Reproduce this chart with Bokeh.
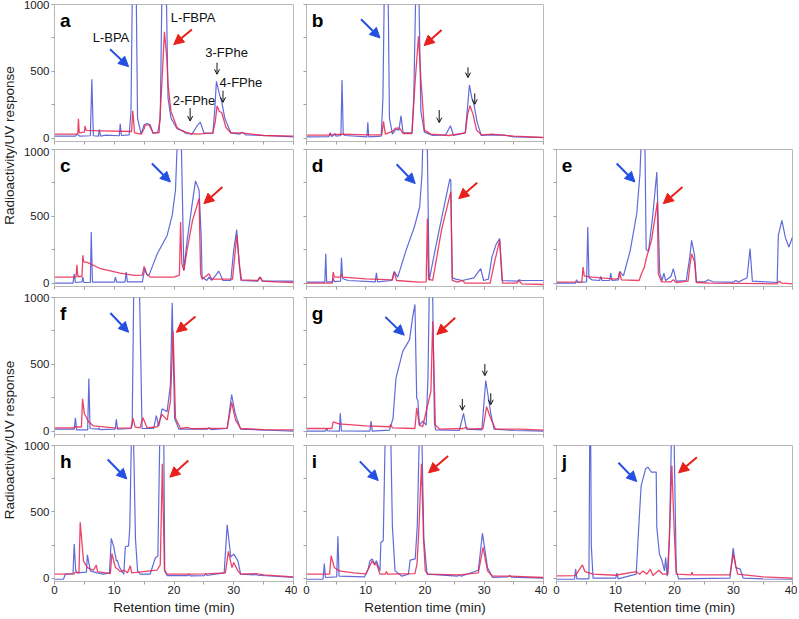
import math
from bokeh.plotting import figure
from bokeh.layouts import row, column, Spacer
from bokeh.models import Arrow, NormalHead, OpenHead, FixedTicker
from bokeh.core.properties import value
from bokeh.embed import file_html
from bokeh.resources import INLINE

# ---------------- data: (retention time [min], response) ----------------
a_uv = [(0,15),(3.5,15),(3.8,30),(4.2,15),(6.0,18),(6.25,440),(6.5,18),(7.35,15),(7.5,65),(7.7,15),(8.5,22),
        (10.85,18),(11.0,107),(11.2,20),(12.5,25),(12.8,200),(13.0,1000),(13.35,1600),(13.7,1000),(13.9,150),
        (14.5,30),(15.0,100),(15.5,110),(16.0,100),(16.5,35),(17.3,45),(17.7,145),(17.95,1000),(18.4,1600),
        (18.75,1000),(19.0,300),(19.5,150),(20.5,70),(21.5,55),(22.0,35),(23.0,30),(24.0,100),(24.4,120),
        (25.0,40),(26.5,35),(26.8,200),(27.1,425),(27.6,330),(28.0,270),(28.5,150),(29.5,40),(31.0,30),
        (31.4,45),(32.0,25),(35.0,20),(40.0,10)]
a_rad = [(0,30),(3.9,30),(4.0,145),(4.15,40),(5.0,45),(5.1,90),(5.3,58),(8,55),(12.9,50),(13.1,205),(13.4,40),
         (14.5,30),(15.0,70),(15.2,100),(15.8,100),(16.5,40),(17.5,40),(17.9,350),(18.4,795),(18.8,600),
         (19.0,400),(19.5,200),(20.5,80),(21.5,50),(22.7,35),(24,30),(26.5,40),(26.9,120),(27.2,240),
         (27.6,200),(28.0,190),(28.7,80),(29.5,40),(31.4,40),(35,20),(40,15)]

b_uv = [(0,10),(3.8,12),(4.0,30),(4.3,12),(4.8,35),(5.0,15),(5.8,20),(6.0,435),(6.2,30),(6.5,20),(10.2,10),
        (10.35,118),(10.5,10),(12.6,15),(12.9,300),(13.1,1000),(13.4,1600),(13.8,1000),(14.0,150),(14.5,30),
        (15.1,68),(15.6,60),(15.95,168),(16.3,40),(17.8,40),(18.1,300),(18.4,1000),(18.7,1600),(19.0,1000),
        (19.3,200),(19.9,45),(21.3,20),(23.5,25),(24.3,93),(24.8,20),(26.8,40),(27.5,398),(27.9,300),
        (28.25,255),(28.8,120),(29.5,20),(31.3,25),(33.5,22),(35,10),(40,5)]
b_rad = [(0,22),(3.8,22),(4.0,40),(4.2,25),(6.0,30),(10.3,25),(12.7,25),(13.0,125),(13.3,30),(14.5,50),
         (15.0,75),(15.7,75),(16.3,35),(17.8,35),(18.3,400),(18.9,762),(19.3,450),(19.9,60),(21,30),(24,20),
         (26.8,40),(27.2,180),(27.6,243),(28.1,180),(28.7,60),(29.5,25),(31.3,30),(35,15),(40,5)]

c_uv = [(0,0),(3.1,0),(3.3,70),(3.5,5),(4.6,10),(4.75,45),(4.9,5),(6.0,5),(6.15,383),(6.35,8),(10.0,8),
        (10.2,45),(10.4,8),(11.8,8),(12.0,83),(12.2,10),(14.7,10),(15.1,108),(15.5,60),(15.8,58),(17.2,220),
        (18.85,357),(19.7,507),(20.25,695),(20.5,1000),(20.9,1600),(21.25,1000),(21.65,95),(22.2,320),
        (23.05,595),(23.6,765),(24.2,695),(24.55,350),(24.7,45),(25.5,20),(25.85,45),(26.3,20),(27.0,60),
        (27.5,90),(28.2,20),(29.5,20),(30.0,250),(30.5,400),(30.9,150),(31.2,20),(34.0,15),(34.4,45),
        (34.8,15),(40,15)]
c_rad = [(0,45),(3.6,45),(3.75,138),(3.9,50),(4.6,50),(4.75,208),(4.9,160),(5.5,155),(7.7,108),(11,75),
         (13.3,58),(14.7,60),(15.0,125),(15.4,70),(16.0,45),(20.0,45),(20.9,60),(21.1,458),(21.3,150),
         (21.65,95),(22.2,250),(23.1,470),(24.2,633),(24.45,70),(24.7,30),(25.85,70),(26.3,30),(29.8,30),
         (30.5,358),(31.0,120),(31.3,25),(34.0,20),(34.4,45),(34.8,15),(37,10),(40,5)]

d_uv = [(0,8),(3.1,8),(3.25,220),(3.4,10),(4.4,10),(4.5,40),(4.7,12),(5.75,15),(5.9,190),(6.1,35),(7,20),
        (11.6,10),(11.8,78),(12.0,10),(14.4,20),(14.8,88),(15.4,45),(16.8,245),(18.2,420),(19.1,570),
        (19.5,820),(19.7,1200),(20.1,1600),(20.4,1000),(20.7,20),(21.8,270),(23.2,570),(24.2,780),
        (24.35,770),(24.6,40),(25.2,30),(26.3,20),(28.25,40),(29.4,108),(29.9,20),(30.7,30),(31.3,195),
        (32.0,290),(32.6,333),(33.0,20),(35.5,15),(35.9,25),(36.3,20),(40,20)]
d_rad = [(0,0),(4.35,0),(4.5,83),(4.7,45),(5.75,45),(5.9,70),(6.1,45),(10,32),(14.5,25),(14.8,83),(15.2,20),
         (19.0,8),(20.2,10),(20.4,483),(20.6,30),(21.3,20),(22.8,400),(24.35,683),(24.6,20),(25.5,8),
         (26.3,20),(26.8,0),(31.0,0),(31.8,170),(32.6,320),(33.1,0),(35.5,0),(35.9,20),(36.3,-5),(40,-10)]

e_uv = [(0,0),(3.2,0),(3.4,25),(3.6,5),(5.1,10),(5.3,420),(5.5,40),(6,25),(7.3,20),(7.5,50),(7.7,20),
        (9.0,20),(9.2,75),(9.4,20),(10.5,25),(10.7,88),(11.35,55),(12.5,245),(13.6,520),(14.15,820),
        (14.3,1000),(14.6,1600),(15.0,1000),(15.2,250),(15.6,240),(16.3,500),(17.0,832),(17.5,75),(17.9,20),
        (18.2,75),(18.5,20),(19.4,50),(19.8,108),(20.3,15),(22.0,20),(22.6,200),(22.9,320),(23.4,208),
        (23.7,10),(25.2,10),(25.7,25),(26.5,10),(30.0,8),(30.4,20),(30.8,8),(32.3,40),(32.8,258),(33.2,15),
        (37.4,5),(37.6,358),(38.2,470),(38.8,340),(39.4,270),(40,345)]
e_rad = [(0,8),(4.3,10),(4.5,120),(4.7,55),(6,45),(10,30),(10.5,35),(10.7,83),(11.0,25),(14.0,20),(14.4,70),
         (14.9,120),(15.2,183),(16.1,320),(17.1,608),(17.25,70),(17.8,10),(19.4,10),(19.8,25),(20.3,5),
         (22.3,15),(22.6,130),(22.9,220),(23.4,158),(23.7,5),(26,0),(37.4,-5),(37.75,15),(38.2,0),(40,-5)]

f_uv = [(0,15),(3.3,15),(3.5,100),(3.7,10),(5.55,10),(5.75,394),(5.95,20),(7.3,15),(7.4,25),(7.6,12),
        (10.15,15),(10.35,88),(10.55,15),(12.8,20),(13.0,45),(13.25,1000),(13.7,1600),(14.25,1000),
        (14.65,20),(16.6,20),(17.05,116),(17.45,35),(18.0,167),(18.85,146),(19.4,348),(19.7,960),(20.1,96),
        (20.8,15),(25.5,15),(25.85,25),(26.2,12),(28.9,20),(29.65,273),(30.2,140),(30.6,83),(31.15,15),
        (34,10),(37,5),(40,0)]
f_rad = [(0,25),(3.3,25),(3.5,33),(4.5,30),(4.7,242),(5.0,130),(5.7,70),(6.5,40),(10,25),(12.8,22),
         (13.15,96),(13.5,30),(14.3,25),(14.8,100),(15.5,25),(17.2,33),(18.0,126),(18.85,83),(19.4,222),
         (19.85,748),(20.25,96),(21.1,20),(22.2,28),(23,18),(28.9,22),(29.65,215),(30.3,83),(31.15,20),
         (35,12),(40,10)]

g_uv = [(0,0),(3.2,0),(3.4,20),(3.6,2),(5.55,0),(5.7,133),(5.9,2),(10.7,0),(10.9,75),(11.1,0),(14.0,8),
        (14.6,95),(15.1,397),(16.25,597),(17.4,685),(17.9,848),(18.3,948),(18.6,246),(18.8,230),(19.05,45),
        (19.6,75),(20.2,45),(20.5,400),(20.7,1000),(21.0,1600),(21.3,1000),(21.6,60),(21.8,10),(25.8,5),
        (26.5,133),(27.0,15),(29.6,10),(30.25,379),(30.7,250),(31.1,133),(31.65,15),(35,5),(40,0)]
g_rad = [(0,20),(4.3,20),(4.5,70),(5.5,55),(10,40),(14.0,33),(14.2,50),(14.5,25),(18.3,20),(18.6,175),
         (19.05,45),(19.6,33),(21.0,300),(21.3,823),(21.75,45),(22.5,15),(26.5,20),(27.0,30),(27.3,15),
         (29.8,20),(30.4,183),(31.1,95),(31.9,15),(36,15),(40,8)]

h_uv = [(0,-8),(1.5,-8),(1.8,30),(3.1,35),(3.3,257),(3.55,60),(3.85,40),(5.35,45),(5.5,176),(6.0,55),
        (7.1,40),(8.2,30),(9.2,40),(9.5,300),(9.9,240),(10.35,130),(10.5,135),(10.9,80),(11.6,30),
        (11.85,237),(12.4,244),(12.6,383),(12.85,1000),(13.05,1600),(13.25,1000),(13.55,300),(13.9,55),
        (14.35,30),(16.0,30),(16.9,156),(17.3,165),(17.6,1000),(17.95,1600),(18.3,1000),(18.45,55),
        (18.85,20),(22.3,20),(22.5,30),(22.7,18),(25.1,20),(25.3,35),(25.5,20),(28.4,40),(28.9,403),
        (29.5,160),(30.0,181),(30.7,130),(31.15,30),(33.5,25),(33.7,30),(34,22),(40,5)]
h_rad = [(0,30),(3.3,32),(3.45,45),(4.1,40),(4.3,421),(4.85,131),(5.5,80),(6.5,60),(7.0,98),(7.2,50),
         (9.35,35),(9.6,186),(10.2,80),(10.55,70),(11.0,50),(11.7,60),(12.2,40),(12.7,93),(12.9,40),
         (17.15,60),(17.7,100),(18.05,862),(18.4,60),(18.85,30),(22.5,30),(25.3,32),(28.6,40),(29.1,202),
         (29.7,80),(30.0,118),(30.7,55),(31.15,30),(33.7,35),(35,25),(40,10)]

i_uv = [(0,-8),(2.8,-8),(3.0,110),(3.2,5),(5.1,10),(5.3,315),(5.5,15),(9.8,10),(10.4,68),(10.7,131),
        (11.1,144),(11.5,106),(11.8,131),(12.4,55),(12.55,270),(12.95,282),(13.25,1000),(13.75,1600),
        (14.25,1000),(14.5,383),(14.95,55),(16.1,15),(17.2,30),(17.5,136),(18.35,145),(18.7,400),(19.0,1000),
        (19.25,1600),(19.5,1000),(19.8,300),(20.35,30),(25.5,15),(25.8,25),(26.1,15),(29.0,60),(29.7,338),
        (30.55,80),(31.4,5),(34.0,10),(34.3,20),(34.6,8),(40,0)]
i_rad = [(0,30),(3.9,30),(4.15,169),(4.7,80),(5.5,55),(8,40),(10,32),(10.7,93),(11.1,131),(11.5,100),
         (11.8,110),(12.4,30),(13.3,30),(13.5,50),(13.7,30),(18.3,35),(18.65,106),(19.0,400),(19.4,862),
         (19.75,300),(20.05,55),(20.5,30),(25.8,25),(29.0,40),(29.8,232),(30.55,55),(31.4,15),(34.3,15),(40,5)]

j_uv = [(0,-8),(3.05,-8),(3.25,68),(3.45,-5),(5.5,-5),(5.62,1000),(5.7,1600),(5.8,1000),(5.9,244),(6.2,0),
        (10.05,0),(10.25,38),(10.45,-5),(13.5,30),(14.0,433),(14.35,698),(15.1,824),(15.5,837),(16.05,800),
        (16.9,800),(17.0,383),(17.45,181),(17.9,131),(18.3,55),(18.5,156),(18.75,15),(19.15,300),
        (19.45,1000),(19.7,1600),(19.95,1000),(20.3,55),(20.7,-5),(29.4,0),(29.95,227),(30.4,80),
        (31.15,68),(31.65,0),(35,-5),(40,-8)]
j_rad = [(0,18),(3.2,20),(4.4,100),(4.8,50),(6.2,30),(10,22),(13.5,50),(14.1,30),(14.65,55),(15.3,30),
         (15.9,68),(16.35,20),(17.35,60),(18.0,30),(18.9,30),(19.55,849),(20.0,300),(20.3,30),(22.8,25),
         (23.0,45),(23.1,25),(29.4,25),(29.95,181),(30.7,30),(35,10),(40,0)]

panel_names = ["a", "b", "c", "d", "e", "f", "g", "h", "i", "j"]
uv_series = [a_uv, b_uv, c_uv, d_uv, e_uv, f_uv, g_uv, h_uv, i_uv, j_uv]
rad_series = [a_rad, b_rad, c_rad, d_rad, e_rad, f_rad, g_rad, h_rad, i_rad, j_rad]

# arrows (x_start, y_start, x_end, y_end)
blue_arrows = {"a": (9.3, 665, 12.4, 535), "b": (9.2, 890, 12.4, 750), "c": (16.3, 895, 19.4, 757),
               "d": (15.2, 890, 18.35, 745), "e": (10.2, 895, 13.3, 757), "f": (9.35, 884, 12.4, 740),
               "g": (13.3, 855, 16.5, 718), "h": (8.9, 895, 12.1, 748), "i": (9.0, 880, 12.1, 736),
               "j": (10.5, 870, 13.6, 728)}
red_arrows = {"a": (23.0, 813, 19.95, 700), "b": (22.8, 810, 19.85, 693), "c": (28.1, 720, 25.0, 595),
              "d": (28.8, 752, 25.7, 632), "e": (21.35, 720, 18.1, 595), "f": (23.6, 858, 20.4, 740),
              "g": (25.1, 848, 22.0, 723), "h": (22.4, 887, 19.3, 761), "i": (23.9, 920, 20.6, 794),
              "j": (23.8, 912, 20.7, 794)}
black_arrows = {"a": [(27.2, 565, 27.2, 478), (28.2, 355, 28.2, 268), (22.7, 225, 22.7, 128)],
                "b": [(27.25, 530, 27.25, 453), (28.4, 335, 28.4, 253), (22.4, 210, 22.4, 116)],
                "g": [(30.1, 502, 30.1, 415), (31.1, 284, 31.1, 198), (26.3, 241, 26.3, 156)]}
compound_labels = ["L-BPA", "L-FBPA", "3-FPhe", "4-FPhe", "2-FPhe"]
compound_x = [9.45, 23.2, 28.8, 31.2, 23.35]
compound_y = [750, 905, 640, 418, 282]

x_ticks = [0, 10, 20, 30, 40]
x_minor = [5, 15, 25, 35]
y_ticks = [0, 500, 1000]
y_minor = [250, 750]

BLUE = "#5763d8"
RED = "#e6244e"
FONT = "Liberation Sans"

FRAME_H = 137
ROW_TOP = [4, 2, 4, 4]
ROW_BOT = [6, 7, 7, 35]
FRAME_W = [239, 237, 236]
LEFT_B = [37, 9, 9]
RIGHT_B = [4, 4, 5]
LABEL_W = 17


def make_panel(name, uv, rad, col, rowi):
    mbl, fw, mbr = LEFT_B[col], FRAME_W[col], RIGHT_B[col]
    mbt, mbb = ROW_TOP[rowi], ROW_BOT[rowi]
    p = figure(width=mbl + fw + mbr, height=mbt + FRAME_H + mbb, x_range=(0, 40), y_range=(-25, 1000),
               output_backend="svg", toolbar_location=None,
               min_border_left=mbl, min_border_right=mbr, min_border_top=mbt, min_border_bottom=mbb)
    p.xgrid.visible = False
    p.ygrid.visible = False
    p.outline_line_color = "#b8b8b8"
    p.background_fill_color = "white"
    p.border_fill_color = "white"
    p.xaxis.ticker = FixedTicker(ticks=x_ticks, minor_ticks=x_minor)
    p.yaxis.ticker = FixedTicker(ticks=y_ticks, minor_ticks=y_minor)
    for ax in (p.xaxis[0], p.yaxis[0]):
        ax.axis_line_color = "#b8b8b8"
        ax.major_tick_line_color = "#a0a0a0"
        ax.minor_tick_line_color = "#a0a0a0"
        ax.major_tick_in = 0
        ax.major_tick_out = 3
        ax.minor_tick_in = 0
        ax.minor_tick_out = 3
        ax.major_label_text_font = FONT
        ax.major_label_text_font_size = "11.5px"
        ax.major_label_text_color = "#222222"
        ax.major_label_standoff = 2
    if rowi != 3:
        p.xaxis.major_label_overrides = {t: "" for t in x_ticks}
        p.xaxis.major_label_text_font_size = "1px"
        p.xaxis.major_label_standoff = 0
    else:
        p.xaxis.major_label_standoff = 1
        p.xaxis.axis_label = "Retention time (min)"
        p.xaxis.axis_label_text_font = FONT
        p.xaxis.axis_label_text_font_size = "13.5px"
        p.xaxis.axis_label_text_font_style = "normal"
        p.xaxis.axis_label_text_color = "#222222"
        p.xaxis.axis_label_standoff = 3
    if col != 0:
        p.yaxis.major_label_overrides = {t: "" for t in y_ticks}
        p.yaxis.major_label_text_font_size = "1px"
        p.yaxis.major_label_standoff = 0

    p.line([t for t, v in uv], [v for t, v in uv], line_color=BLUE, line_width=1.2, line_alpha=0.95)
    p.line([t for t, v in rad], [v for t, v in rad], line_color=RED, line_width=1.3, line_alpha=0.85)

    bx0, by0, bx1, by1 = blue_arrows[name]
    p.add_layout(Arrow(x_start=bx0, y_start=by0, x_end=bx1, y_end=by1, line_color="#2350e0", line_width=2,
                       end=NormalHead(size=10, fill_color="#2350e0", line_color="#2350e0")))
    rx0, ry0, rx1, ry1 = red_arrows[name]
    p.add_layout(Arrow(x_start=rx0, y_start=ry0, x_end=rx1, y_end=ry1, line_color="#e8201c", line_width=2,
                       end=NormalHead(size=10, fill_color="#e8201c", line_color="#e8201c")))
    for (kx0, ky0, kx1, ky1) in black_arrows.get(name, []):
        p.add_layout(Arrow(x_start=kx0, y_start=ky0, x_end=kx1, y_end=ky1, line_color="#111111", line_width=1,
                           end=OpenHead(size=5, line_color="#111111", line_width=1)))
    if name == "a":
        p.text(x=compound_x, y=compound_y, text=compound_labels, text_align="center", text_baseline="middle",
               text_font=value(FONT), text_font_size="13px", text_color="#111111")

    p.text(x=[0.9], y=[878], text=[name], text_align="left", text_baseline="alphabetic",
           text_font=value(FONT), text_font_size="19px", text_font_style="bold", text_color="#000000")
    return p


panels = {}
grid_pos = {"a": (0, 0), "b": (1, 0), "c": (0, 1), "d": (1, 1), "e": (2, 1),
            "f": (0, 2), "g": (1, 2), "h": (0, 3), "i": (1, 3), "j": (2, 3)}
for name, uv, rad in zip(panel_names, uv_series, rad_series):
    c, r = grid_pos[name]
    panels[name] = make_panel(name, uv, rad, c, r)

row_hs = [ROW_TOP[k] + FRAME_H + ROW_BOT[k] for k in range(4)]
col3_w = LEFT_B[2] + FRAME_W[2] + RIGHT_B[2]


def ylabel_fig(height, frac):
    q = figure(width=LABEL_W, height=height, x_range=(0, 1), y_range=(0, 1), x_axis_type=None,
               y_axis_type=None, output_backend="svg", toolbar_location=None, min_border_left=0,
               min_border_right=0, min_border_top=0, min_border_bottom=0)
    q.xgrid.visible = False
    q.ygrid.visible = False
    q.outline_line_color = None
    q.text(x=[0.55], y=[frac], text=["Radioactivity/UV response"], angle=math.pi / 2, text_align="center",
           text_baseline="middle", text_font=value(FONT), text_font_size="13.5px", text_color="#222222")
    return q


h_top = row_hs[0] + row_hs[1]
c_top = (ROW_TOP[0] + row_hs[0] + ROW_TOP[1] + FRAME_H) / 2
h_bot = row_hs[2] + row_hs[3]
c_bot = (ROW_TOP[2] + row_hs[2] + ROW_TOP[3] + FRAME_H) / 2
lab_top = ylabel_fig(h_top, (h_top - c_top) / h_top)
lab_bot = ylabel_fig(h_bot, (h_bot - c_bot) / h_bot)

grid = column(
    row(panels["a"], panels["b"], Spacer(width=col3_w, height=row_hs[0])),
    row(panels["c"], panels["d"], panels["e"]),
    row(panels["f"], panels["g"], Spacer(width=col3_w, height=row_hs[2])),
    row(panels["h"], panels["i"], panels["j"]),
)
layout = row(column(lab_top, lab_bot), grid)

open("out.html", "w").write(file_html(layout, INLINE))
